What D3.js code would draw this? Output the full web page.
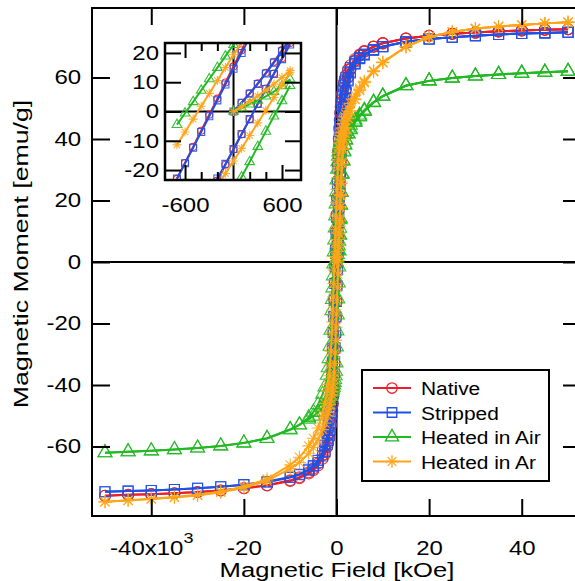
<!DOCTYPE html>
<html><head><meta charset="utf-8">
<script src="https://cdn.jsdelivr.net/npm/d3@7"></script>
<style>body{margin:0;background:#fff}</style>
</head><body><svg width="575" height="581"></svg>
<script>
// ---------------- DATA ----------------
const seriesNames = ["Native", "Stripped", "Heated in Air", "Heated in Ar"];
// applied field, kOe (loop branches share this grid)
const fieldLoop = [-50,-45,-40,-35,-30,-25,-20,-15,-10,-8,-6,-5,-4,-3,-2.5,-2,-1.8,-1.6,-1.4,-1.2,-1,-0.9,-0.8,-0.7,-0.6,-0.5,-0.4,-0.3,-0.2,-0.1,0,0.1,0.2,0.3,0.4,0.5,0.6,0.7,0.8,0.9,1,1.2,1.4,1.6,1.8,2,2.5,3,4,5,6,8,10,15,20,25,30,35,40,45,50];
const fieldVirgin = [0,0.1,0.2,0.3,0.4,0.5,0.6,0.7,0.8,0.9,1,1.2,1.4,1.6,1.8,2,2.5,3,4,5,6,8,10,15,20,25,30,35,40,45,50];

// magnetic moment, emu/g — descending branch (listed in order of fieldLoop)
const nativeDown = [-76.0,-75.7,-75.5,-75.2,-74.8,-74.3,-73.6,-72.6,-71.0,-70.0,-68.4,-67.2,-65.5,-62.8,-60.4,-56.6,-54.4,-51.6,-48.0,-43.2,-36.8,-32.8,-28.2,-23.0,-17.6,-12.1,-6.6,-1.1,4.4,9.9,15.4,20.9,26.4,31.6,36.2,40.2,43.5,46.2,48.5,50.4,52.0,54.6,56.6,58.2,59.5,60.6,62.6,64.0,66.0,67.5,68.6,70.1,71.2,72.7,73.6,74.2,74.6,75.0,75.3,75.5,75.7];
const nativeUp = [-76.0,-75.7,-75.5,-75.2,-74.8,-74.3,-73.6,-72.7,-71.2,-70.3,-68.8,-67.7,-66.2,-64.0,-62.5,-60.2,-58.9,-57.3,-55.4,-53.0,-50.0,-48.2,-46.0,-43.5,-40.5,-37.0,-33.0,-28.5,-23.6,-18.2,-13.0,-7.8,-2.6,2.6,7.8,13.0,18.2,23.4,28.2,32.6,36.5,42.8,47.5,51.0,53.8,56.0,60.0,62.6,65.4,67.1,68.4,70.0,71.1,72.7,73.6,74.2,74.6,75.0,75.3,75.5,75.7];
const nativeVirgin = [0,3.0,6.2,9.6,13.2,17.0,21.0,25.0,29.0,33.0,36.8,43.0,47.8,51.3,54.0,56.2,60.2,62.8,65.5,67.2,68.5,70.0,71.1,72.7,73.6,74.2,74.6,75.0,75.3,75.5,75.7];

const strippedDown = [-74.7,-74.5,-74.3,-74.0,-73.6,-73.1,-72.4,-71.4,-69.9,-69.0,-67.4,-66.2,-64.5,-61.9,-59.6,-55.9,-53.7,-50.9,-47.3,-42.6,-36.4,-32.5,-28.0,-22.9,-17.7,-12.4,-7.0,-1.6,3.8,9.2,14.6,20.0,25.4,30.6,35.2,39.2,42.6,45.3,47.6,49.6,51.3,53.9,55.9,57.5,58.8,59.9,61.8,63.2,65.1,66.5,67.6,69.1,70.1,71.6,72.5,73.1,73.6,74.0,74.3,74.5,74.7];
const strippedUp = [-74.7,-74.5,-74.3,-74.0,-73.6,-73.1,-72.4,-71.6,-70.1,-69.2,-67.7,-66.6,-65.2,-63.1,-61.6,-59.3,-58.0,-56.5,-54.6,-52.3,-49.3,-47.5,-45.3,-42.8,-39.9,-36.4,-32.4,-27.9,-22.9,-17.9,-12.8,-7.7,-2.6,2.6,7.7,12.8,17.9,22.9,27.6,31.9,35.8,42.0,46.6,50.1,52.8,55.0,58.9,61.5,64.4,66.1,67.3,68.9,70.0,71.6,72.5,73.1,73.6,74.0,74.3,74.5,74.7];
const strippedVirgin = [0,3.0,6.1,9.4,13.0,16.7,20.6,24.5,28.5,32.3,36.0,42.2,46.9,50.4,53.1,55.3,59.2,61.8,64.5,66.2,67.4,68.9,70.0,71.6,72.5,73.1,73.6,74.0,74.3,74.5,74.7];

const airDown = [-62.0,-61.7,-61.4,-61.0,-60.5,-59.8,-58.9,-57.4,-54.6,-53.0,-50.6,-48.8,-46.4,-43.0,-40.6,-36.8,-34.4,-31.4,-27.4,-22.2,-15.8,-12.2,-8.4,-4.5,-0.6,3.3,7.2,11.1,15.0,18.9,22.8,26.7,30.2,32.6,34.4,35.8,36.9,37.8,38.5,39.1,39.6,40.3,40.9,41.5,42.0,42.5,43.6,44.5,46.2,47.8,49.4,52.0,54.0,57.4,58.9,59.8,60.5,61.0,61.4,61.7,62.0];
const airUp = [-62.0,-61.7,-61.4,-61.0,-60.5,-59.8,-58.8,-57.3,-54.4,-52.9,-51.1,-50.1,-48.9,-47.4,-46.5,-45.4,-44.9,-44.4,-43.8,-43.1,-42.3,-41.8,-41.3,-40.7,-40.0,-39.2,-38.2,-37.0,-35.5,-32.8,-27.6,-22.4,-17.2,-12.0,-6.8,-1.6,3.6,8.8,13.8,18.5,22.6,28.5,32.8,35.8,38.0,39.6,41.6,43.0,45.4,47.2,49.0,51.8,53.9,57.3,58.9,59.8,60.5,61.0,61.4,61.7,62.0];
const airVirgin = [0,1.2,2.5,3.8,5.2,6.8,8.7,11.0,14.2,18.6,22.8,28.8,33.0,36.0,38.2,39.8,41.8,43.2,45.6,47.4,49.1,51.9,53.9,57.3,58.9,59.8,60.5,61.0,61.4,61.7,62.0];

const arDown = [-78.0,-77.5,-77.0,-76.4,-75.7,-74.6,-73.0,-70.6,-66.0,-63.5,-59.8,-57.3,-54.0,-49.5,-46.0,-42.0,-39.8,-37.0,-33.5,-29.0,-23.0,-19.5,-15.6,-11.4,-7.0,-2.6,1.8,6.2,10.6,15.0,19.4,23.6,27.4,30.6,33.2,35.4,37.2,38.7,40.0,41.1,42.0,43.6,45.0,46.2,47.2,48.1,50.0,51.6,54.3,56.6,58.8,62.2,65.0,70.0,73.2,74.8,75.9,76.6,77.1,77.6,78.0];
const arUp = [-78.0,-77.6,-77.1,-76.6,-75.9,-74.9,-73.4,-71.2,-67.2,-65.2,-62.2,-60.3,-57.8,-54.5,-52.4,-50.0,-48.9,-47.7,-46.4,-44.9,-43.2,-42.2,-41.0,-39.6,-38.0,-36.0,-33.0,-29.5,-25.5,-21.2,-16.9,-12.6,-8.2,-3.9,0.4,4.8,9.1,13.4,17.6,21.6,25.5,32.0,36.6,39.6,41.8,43.5,46.6,49.0,52.8,55.8,58.3,61.9,64.8,70.0,73.2,74.8,75.9,76.6,77.1,77.6,78.0];
const arVirgin = [0,1.6,3.4,5.3,7.3,9.4,11.6,14.0,18.0,22.0,26.0,32.6,37.0,39.9,42.0,43.7,46.8,49.2,53.0,56.0,58.5,62.0,64.9,70.0,73.2,74.8,75.9,76.6,77.1,77.6,78.0];

const mainYTicks = [-60,-40,-20,0,20,40,60];
const mainXTicks = [-40,-20,0,20,40];
const insetYTicks = [-20,-10,0,10,20];
const insetXTicks = [-0.6,0.6];
const insetXMinor = [-0.4,-0.2,0.2,0.4];

// ---------------- STYLE ----------------
const FONT = '"Liberation Sans", Arial, Helvetica, sans-serif';
const SX = 1.2;
const colors = ["#e8202a", "#2050e4", "#22b922", "#ffa51a"];
const markerKinds = ["circle", "square", "triangle", "star"];

const series = seriesNames.map((name, i) => ({
  name, color: colors[i], marker: markerKinds[i],
  branches: [
    [fieldVirgin, [nativeVirgin, strippedVirgin, airVirgin, arVirgin][i]],
    [fieldLoop, [nativeDown, strippedDown, airDown, arDown][i]],
    [fieldLoop, [nativeUp, strippedUp, airUp, arUp][i]]
  ].map(([h, m]) => h.map((v, k) => [v, m[k]]))
}));

function markerPath(kind, s) {
  if (kind === "circle") return d3.symbol(d3.symbolCircle, Math.PI * s * s / 4)();
  if (kind === "square") return d3.symbol(d3.symbolSquare, s * s)();
  if (kind === "triangle") return d3.symbol(d3.symbolTriangle, Math.sqrt(3) / 4 * s * s * 1.15)();
  const r = s / 2, a = r * 0.7071;
  return `M0,${-r}L0,${r}M${-r},0L${r},0M${-a},${-a}L${a},${a}M${-a},${a}L${a},${-a}`;
}
const mainSize = {circle: 11, square: 10, triangle: 13, star: 13};
const insetSize = {circle: 7, square: 7, triangle: 9, star: 9};

const svg = d3.select("svg");
const defs = svg.append("defs");

// ---------------- MAIN PLOT ----------------
const L = 92, R = 581, T = 8, B = 516;
const x = d3.scaleLinear().domain([-52.8, 52.8]).range([L, R]);
const y = d3.scaleLinear().domain([-82.6, 82.6]).range([B, T]);

defs.append("clipPath").attr("id", "clipMain").append("rect")
  .attr("x", L).attr("y", T).attr("width", R - L).attr("height", B - T);

// zero lines
svg.append("line").attr("x1", L).attr("x2", R).attr("y1", y(0)).attr("y2", y(0))
  .attr("stroke", "#000").attr("stroke-width", 2);
svg.append("line").attr("x1", x(0)).attr("x2", x(0)).attr("y1", T).attr("y2", B)
  .attr("stroke", "#000").attr("stroke-width", 2);

function drawData(g, xs, ys, sizes, filter) {
  const line = d3.line().x(d => xs(d[0])).y(d => ys(d[1]));
  series.forEach(s => {
    const bs = s.branches.map(b => b.filter(filter));
    bs.forEach(b => {
      g.append("path").attr("d", line(b)).attr("fill", "none")
        .attr("stroke", s.color).attr("stroke-width", 2).attr("stroke-linejoin", "round");
    });
    const mp = markerPath(s.marker, sizes[s.marker]);
    bs.forEach(b => {
      g.append("g").selectAll("path").data(b).join("path")
        .attr("transform", d => `translate(${xs(d[0])},${ys(d[1])})`)
        .attr("d", mp).attr("fill", "none").attr("stroke", s.color)
        .attr("stroke-width", 1.1).attr("stroke-opacity", 0.9);
    });
  });
}

const gMain = svg.append("g").attr("clip-path", "url(#clipMain)");
drawData(gMain, x, y, mainSize, d => true);

function styleAxis(g, fontSize) {
  g.select(".domain").remove();
  g.selectAll(".tick line").attr("stroke", "#000").attr("stroke-width", 2);
  g.selectAll(".tick text").attr("fill", "#000").attr("font-family", FONT)
    .attr("font-size", fontSize).attr("transform", `scale(${SX},1)`);
}

// left axis
const gl = svg.append("g").attr("transform", `translate(${L},0)`)
  .call(d3.axisLeft(y).tickValues(mainYTicks).tickSizeInner(-18).tickSizeOuter(0)
    .tickPadding(9).tickFormat(d => String(d)));
styleAxis(gl, 20);
// right axis
const gr = svg.append("g").attr("transform", `translate(${R},0)`)
  .call(d3.axisRight(y).tickValues(mainYTicks).tickSizeInner(-18).tickSizeOuter(0).tickFormat(""));
styleAxis(gr, 20);
// bottom axis
const gb = svg.append("g").attr("transform", `translate(0,${B})`)
  .call(d3.axisBottom(x).tickValues(mainXTicks).tickSizeInner(-17).tickSizeOuter(0)
    .tickFormat(d => d === -40 ? "-40x10" : String(d)));
styleAxis(gb, 20);
gb.selectAll(".tick text").attr("y", 39).attr("dy", "0");
gb.selectAll(".tick text").filter(d => d === -40)
  .append("tspan").attr("dy", -12).attr("font-size", 15).text("3");
// top axis
const gt = svg.append("g").attr("transform", `translate(0,${T})`)
  .call(d3.axisTop(x).tickValues(mainXTicks).tickSizeInner(-17).tickSizeOuter(0).tickFormat(""));
styleAxis(gt, 20);

// frame
svg.append("rect").attr("x", L).attr("y", T).attr("width", R - L).attr("height", B - T)
  .attr("fill", "none").attr("stroke", "#000").attr("stroke-width", 2);

// axis titles
svg.append("g").attr("transform", "translate(337,577)")
  .append("text").attr("text-anchor", "middle").attr("transform", "scale(1.22,1)")
  .attr("font-family", FONT).attr("font-size", 21).attr("fill", "#000")
  .text("Magnetic Field [kOe]");
svg.append("g").attr("transform", "translate(28,254) rotate(-90)")
  .append("text").attr("text-anchor", "middle").attr("transform", "scale(1.27,1)")
  .attr("font-family", FONT).attr("font-size", 21).attr("fill", "#000")
  .text("Magnetic Moment [emu/g]");

// ---------------- INSET ----------------
const iL = 165, iR = 301, iT = 43, iB = 180;
const ix = d3.scaleLinear().domain([-0.848, 0.835]).range([iL, iR]);
const iy = d3.scaleLinear().domain([-23.4, 23.4]).range([iB, iT]);
defs.append("clipPath").attr("id", "clipInset").append("rect")
  .attr("x", iL).attr("y", iT).attr("width", iR - iL).attr("height", iB - iT);

svg.append("rect").attr("x", iL).attr("y", iT).attr("width", iR - iL).attr("height", iB - iT)
  .attr("fill", "#fff");
svg.append("line").attr("x1", iL).attr("x2", iR).attr("y1", iy(0)).attr("y2", iy(0))
  .attr("stroke", "#000").attr("stroke-width", 2);
svg.append("line").attr("x1", ix(0)).attr("x2", ix(0)).attr("y1", iT).attr("y2", iB)
  .attr("stroke", "#000").attr("stroke-width", 2);

const gIn = svg.append("g").attr("clip-path", "url(#clipInset)");
drawData(gIn, ix, iy, insetSize, d => Math.abs(d[0]) <= 0.7001);

const il = svg.append("g").attr("transform", `translate(${iL},0)`)
  .call(d3.axisLeft(iy).tickValues(insetYTicks).tickSizeInner(-16).tickSizeOuter(0)
    .tickPadding(5).tickFormat(d => String(d)));
styleAxis(il, 20);
const ir = svg.append("g").attr("transform", `translate(${iR},0)`)
  .call(d3.axisRight(iy).tickValues(insetYTicks).tickSizeInner(-16).tickSizeOuter(0).tickFormat(""));
styleAxis(ir, 20);
const ib = svg.append("g").attr("transform", `translate(0,${iB})`)
  .call(d3.axisBottom(ix).tickValues(insetXTicks).tickSizeInner(-15).tickSizeOuter(0)
    .tickFormat(d => String(Math.round(d * 1000))));
styleAxis(ib, 20);
ib.selectAll(".tick text").attr("y", 32).attr("dy", "0");
const ibm = svg.append("g").attr("transform", `translate(0,${iB})`)
  .call(d3.axisBottom(ix).tickValues(insetXMinor).tickSizeInner(-8).tickSizeOuter(0).tickFormat(""));
styleAxis(ibm, 20);
const it = svg.append("g").attr("transform", `translate(0,${iT})`)
  .call(d3.axisTop(ix).tickValues(insetXTicks).tickSizeInner(-15).tickSizeOuter(0).tickFormat(""));
styleAxis(it, 20);
const itm = svg.append("g").attr("transform", `translate(0,${iT})`)
  .call(d3.axisTop(ix).tickValues(insetXMinor).tickSizeInner(-8).tickSizeOuter(0).tickFormat(""));
styleAxis(itm, 20);
svg.append("rect").attr("x", iL).attr("y", iT).attr("width", iR - iL).attr("height", iB - iT)
  .attr("fill", "none").attr("stroke", "#000").attr("stroke-width", 2.5);

// ---------------- LEGEND ----------------
const lg = svg.append("g");
lg.append("rect").attr("x", 362).attr("y", 370).attr("width", 187).attr("height", 111)
  .attr("fill", "#fff").attr("stroke", "#000").attr("stroke-width", 2);
series.forEach((s, i) => {
  const ry = 388 + i * 24.5;
  lg.append("line").attr("x1", 373).attr("x2", 411).attr("y1", ry).attr("y2", ry)
    .attr("stroke", s.color).attr("stroke-width", 2);
  lg.append("path").attr("transform", `translate(392,${ry})`)
    .attr("d", markerPath(s.marker, mainSize[s.marker] * 0.95))
    .attr("fill", "none").attr("stroke", s.color).attr("stroke-width", 1.3);
  lg.append("g").attr("transform", `translate(421,${ry + 7})`)
    .append("text").attr("transform", "scale(1.1,1)")
    .attr("font-family", FONT).attr("font-size", 19).attr("fill", "#000").text(s.name);
});
</script>
</body></html>
